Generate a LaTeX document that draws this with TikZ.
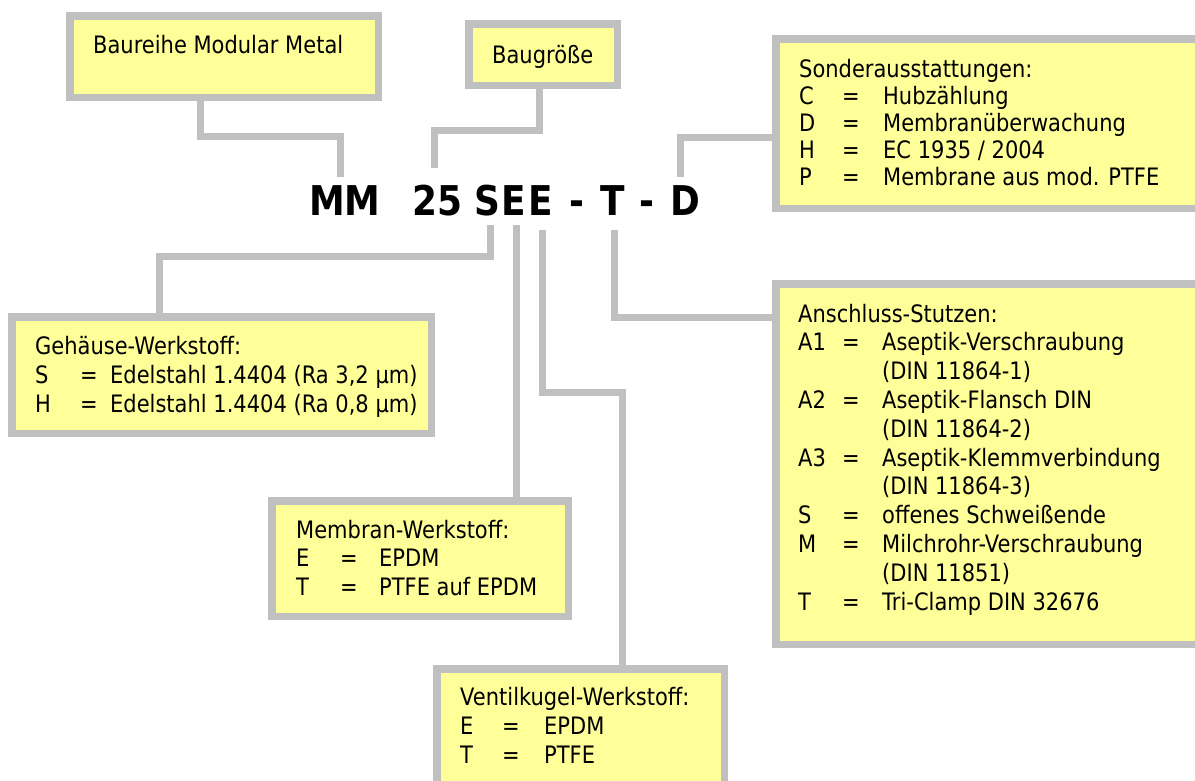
\documentclass[tikz,border=0pt]{standalone}
\usepackage{fontspec}
\setmainfont{DejaVu Sans}[FakeStretch=0.875]
\usetikzlibrary{calc}
\definecolor{boxyellow}{HTML}{FFFF99}
\definecolor{bordergray}{HTML}{C0C0C0}
\newlength\colA
\newlength\colB
\newcommand\kv[2]{\makebox[\colA][l]{#1}\makebox[\colB][l]{=}#2}
\newcommand\kvcont[1]{\hspace*{\dimexpr\colA+\colB\relax}#1}
\newcommand\cols[2]{\setlength\colA{#1}\setlength\colB{#2}}
\tikzset{
  infobox/.style={draw=bordergray, fill=boxyellow, line width=7.5pt, rectangle, inner sep=0pt},
  conn/.style={draw=bordergray, line width=7pt, line join=miter},
  lbl/.style={inner sep=0pt, anchor=base west, font=\fontsize{24}{28.8}\selectfont},
  codeletter/.style={inner sep=0pt, anchor=base, font=\fontsize{41}{48}\selectfont\bfseries, text height=38pt, text depth=10pt},
}
\begin{document}
\begin{tikzpicture}[x=1pt,y=-1pt]
\useasboundingbox (0,0) rectangle (1195,780);
\clip (0,0) rectangle (1195,780);

% boxes
\node[infobox, minimum width=308.5pt, minimum height=81.5pt] (baureihe) at (224,56.5) {};
\node[infobox, minimum width=148.5pt, minimum height=61.5pt] (baugroesse) at (543,54.5) {};
\node[infobox, minimum width=423.5pt, minimum height=169.5pt] (sonder) at (987.5,123.5) {};
\node[infobox, minimum width=419.5pt, minimum height=116.5pt] (gehaeuse) at (221.5,375) {};
\node[infobox, minimum width=423.5pt, minimum height=360.5pt] (anschluss) at (987.5,464) {};
\node[infobox, minimum width=296.5pt, minimum height=115.5pt] (membran) at (420,558.5) {};
\node[infobox, minimum width=287.5pt, minimum height=127.5pt] (ventil) at (580.5,732.5) {};

% code letters
\node[codeletter] (nMM) at (345,215) {MM};
\node[codeletter] (n25) at (437,215) {25};
\node[codeletter] (nS) at (487,215) {S};
\node[codeletter] (nE1) at (514,215) {E};
\node[codeletter] (nE2) at (541,215) {E};
\node[codeletter] (nd1) at (577,215) {-};
\node[codeletter] (nT) at (613,215) {T};
\node[codeletter] (nd2) at (647,215) {-};
\node[codeletter] (nD) at (685,215) {D};

% connectors
\draw[conn] (200,0 |- baureihe.south) -- (200,136) -- (340,136) -- (340,0 |- nMM.north);
\draw[conn] (539,0 |- baugroesse.south) -- (539,130) -- (434,130) -- ($(434,0 |- n25.north)+(0,-9)$);
\draw[conn] (680,0 |- nD.north) -- (680,137) -- (sonder.west |- 0,137);
\draw[conn] (490,0 |- nS.south) -- (490,256) -- (159,256) -- (159,0 |- gehaeuse.north);
\draw[conn] (516,0 |- nE1.south) -- (516,0 |- membran.north);
\draw[conn] ($(542,0 |- nE2.south)+(0,5)$) -- (542,392) -- (622,392) -- (622,0 |- ventil.north);
\draw[conn] ($(614,0 |- nT.south)+(0,5)$) -- (614,317) -- (anschluss.west |- 0,317);

% texts
\node[lbl] (tbaureihe) at (93,53) {Baureihe Modular Metal};
\node[lbl] (tbaugroesse) at (492,63) {Baugröße};
\node[lbl, font=\fontsize{24}{27}\selectfont] (tsonder) at (799,77) {\cols{43pt}{41pt}\begin{tabular}[t]{@{}l@{}}
Sonderausstattungen:\\
\kv{C}{Hubzählung}\\
\kv{D}{Membranüberwachung}\\
\kv{H}{EC 1935 / 2004}\\
\kv{P}{Membrane aus mod. PTFE}
\end{tabular}};
\node[lbl, font=\fontsize{24}{29}\selectfont] (tgehaeuse) at (35,354) {\cols{45pt}{30pt}\begin{tabular}[t]{@{}l@{}}
Gehäuse-Werkstoff:\\
\kv{S}{Edelstahl 1.4404 (Ra 3,2 µm)}\\
\kv{H}{Edelstahl 1.4404 (Ra 0,8 µm)}
\end{tabular}};
\node[lbl, font=\fontsize{24}{28.8}\selectfont] (tanschluss) at (798,322) {\cols{44pt}{40pt}\begin{tabular}[t]{@{}l@{}}
Anschluss-Stutzen:\\
\kv{A1}{Aseptik-Verschraubung}\\
\kvcont{(DIN 11864-1)}\\
\kv{A2}{Aseptik-Flansch DIN}\\
\kvcont{(DIN 11864-2)}\\
\kv{A3}{Aseptik-Klemmverbindung}\\
\kvcont{(DIN 11864-3)}\\
\kv{S}{offenes Schweißende}\\
\kv{M}{Milchrohr-Verschraubung}\\
\kvcont{(DIN 11851)}\\
\kv{T}{Tri-Clamp DIN 32676}
\end{tabular}};
\node[lbl, font=\fontsize{24}{28.5}\selectfont] (tmembran) at (296,538) {\cols{44pt}{39pt}\begin{tabular}[t]{@{}l@{}}
Membran-Werkstoff:\\
\kv{E}{EPDM}\\
\kv{T}{PTFE auf EPDM}
\end{tabular}};
\node[lbl, font=\fontsize{24}{29}\selectfont] (tventil) at (460,705) {\cols{42pt}{42pt}\begin{tabular}[t]{@{}l@{}}
Ventilkugel-Werkstoff:\\
\kv{E}{EPDM}\\
\kv{T}{PTFE}
\end{tabular}};
\end{tikzpicture}
\end{document}
